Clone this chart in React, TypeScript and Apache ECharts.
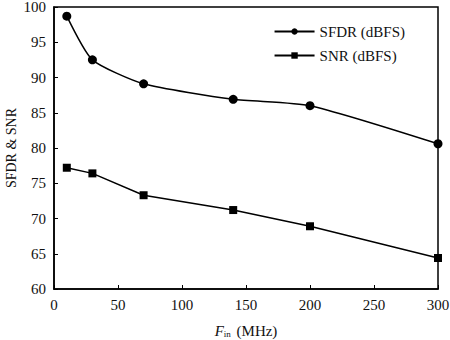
import React, { useEffect, useRef } from "react";
import * as echarts from "echarts";

const freqs = [10, 30, 70, 140, 200, 300];
const sfdr = [98.7, 92.5, 89.1, 86.9, 86.0, 80.6];
const snr = [77.2, 76.4, 73.3, 71.2, 68.9, 64.4];
const xTicks = [0, 50, 100, 150, 200, 250, 300];
const yRange = [60, 100];

export default function App() {
  const ref = useRef<HTMLDivElement>(null);
  useEffect(() => {
    const chart = echarts.init(ref.current!, undefined, { renderer: "svg" });
    const font = "Liberation Serif";
    chart.setOption({
      animation: false,
      backgroundColor: "#fff",
      textStyle: { fontFamily: font },
      grid: {
        left: 54,
        right: 12,
        top: 7,
        bottom: 51,
        outerBoundsMode: "none",
        containLabel: false,
        show: true,
        borderColor: "#000",
        borderWidth: 1.5,
        backgroundColor: "transparent",
      },
      legend: {
        top: 19,
        right: 40,
        orient: "vertical",
        itemWidth: 40,
        itemHeight: 8,
        itemGap: 9,
        textStyle: { fontFamily: font, fontSize: 15, color: "#111" },
        data: ["SFDR (dBFS)", "SNR (dBFS)"],
      },
      xAxis: {
        type: "value",
        min: xTicks[0],
        max: xTicks[xTicks.length - 1],
        interval: 50,
        axisLine: { lineStyle: { color: "#000", width: 1.5 } },
        axisTick: { inside: true, length: 4, lineStyle: { color: "#000" } },
        axisLabel: { color: "#111", fontSize: 15, fontFamily: font, margin: 8 },
        splitLine: { show: false },
        name: "{i|F}{s|in} (MHz)",
        nameLocation: "middle",
        nameGap: 34,
        nameTextStyle: {
          color: "#111",
          fontSize: 15,
          fontFamily: font,
          rich: {
            i: { fontStyle: "italic", fontSize: 15, fontFamily: font, color: "#111" },
            s: { fontSize: 9, fontFamily: font, color: "#111", verticalAlign: "bottom", padding: [6, 2, 0, 0] },
          },
        },
      },
      yAxis: {
        type: "value",
        min: yRange[0],
        max: yRange[1],
        interval: 5,
        axisLine: { show: true, lineStyle: { color: "#000", width: 1.5 } },
        axisTick: { show: true, inside: true, length: 4, lineStyle: { color: "#000" } },
        axisLabel: { color: "#111", fontSize: 15, fontFamily: font, margin: 8 },
        splitLine: { show: false },
        name: "SFDR & SNR",
        nameLocation: "middle",
        nameMoveOverlap: false,
        nameGap: 36,
        nameTextStyle: { color: "#111", fontSize: 14, fontFamily: font },
      },
      series: [
        {
          name: "SFDR (dBFS)",
          type: "line",
          smooth: 0.2,
          data: freqs.map((f, i) => [f, sfdr[i]]),
          symbol: "circle",
          symbolSize: 9,
          lineStyle: { color: "#000", width: 1.5 },
          itemStyle: { color: "#000" },
        },
        {
          name: "SNR (dBFS)",
          type: "line",
          data: freqs.map((f, i) => [f, snr[i]]),
          symbol: "rect",
          symbolSize: 8,
          lineStyle: { color: "#000", width: 1.5 },
          itemStyle: { color: "#000" },
        },
      ],
    });
    return () => chart.dispose();
  }, []);
  return <div ref={ref} style={{ width: 450, height: 340, position: "absolute", left: 0, top: 0 }} />;
}
